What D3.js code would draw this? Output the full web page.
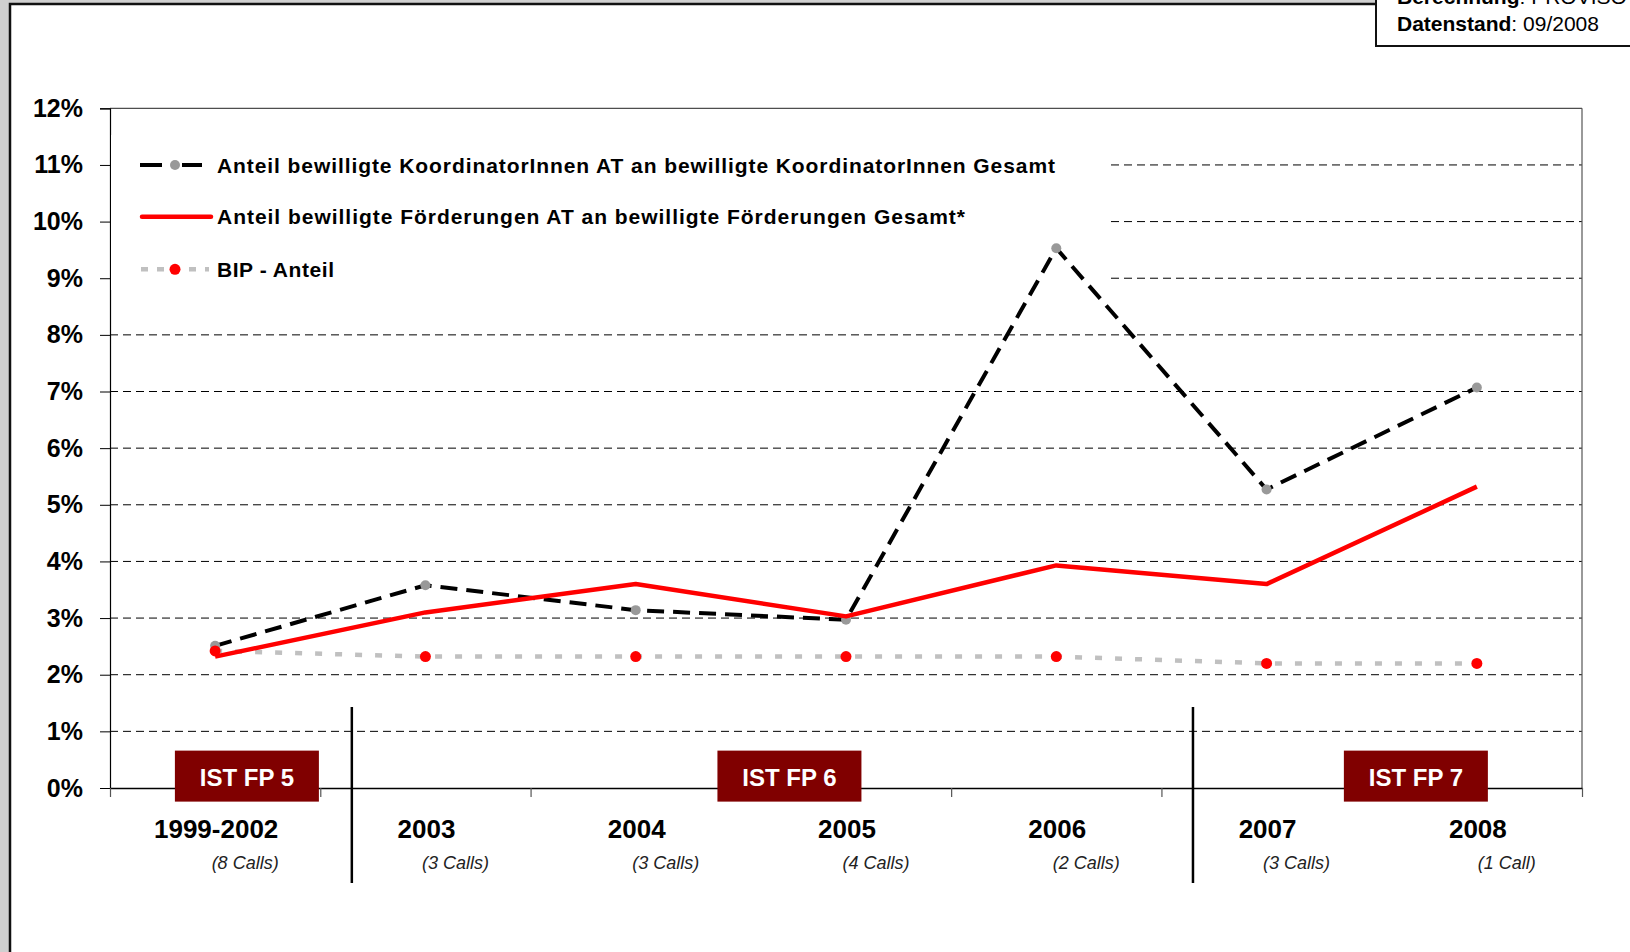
<!DOCTYPE html>
<html>
<head>
<meta charset="utf-8">
<script src="https://cdn.jsdelivr.net/npm/d3@7"></script>
<style>
  html, body { margin: 0; padding: 0; background: #d0d0d0; }
  svg { display: block; font-family: "Liberation Sans", Arial, Helvetica, sans-serif; }
</style>
</head>
<body>
<svg id="chart" width="1630" height="952"></svg>
<script>
// Categories and call counts
let categories = ["1999-2002", "2003", "2004", "2005", "2006", "2007", "2008"];
let callLabels = ["(8 Calls)", "(3 Calls)", "(3 Calls)", "(4 Calls)", "(2 Calls)", "(3 Calls)", "(1 Call)"];

// Series values in percent
let koordinatoren = [2.51, 3.58, 3.14, 2.97, 9.53, 5.27, 7.07];
let foerderungen = [2.32, 3.10, 3.60, 3.03, 3.93, 3.60, 5.32];
let bipAnteil = [2.42, 2.32, 2.32, 2.32, 2.32, 2.20, 2.20];

// Y ticks
let yTicks = [0, 1, 2, 3, 4, 5, 6, 7, 8, 9, 10, 11, 12];

// Programme periods (position in category units)
let programmes = ["IST FP 5", "IST FP 6", "IST FP 7"];
let programmeCenters = [0.651, 3.231, 6.21];
let programmeBreaks = [1.15, 5.15];

let legendLabels = [
  "Anteil bewilligte KoordinatorInnen AT an bewilligte KoordinatorInnen Gesamt",
  "Anteil bewilligte Förderungen AT an bewilligte Förderungen Gesamt*",
  "BIP - Anteil"
];

let plotLeft = 110, plotRight = 1582, plotTop = 108.3, plotBottom = 788;

let svg = d3.select("#chart");

// page panel
svg.append("rect")
    .attr("x", 10).attr("y", 4)
    .attr("width", 1640).attr("height", 980)
    .attr("fill", "#fff")
    .attr("stroke", "#111")
    .attr("stroke-width", 2.5);

let xScale = d3.scaleBand()
    .domain(categories)
    .range([plotLeft, plotRight])
    .padding(0);

let xIdx = d3.scaleLinear()
    .domain([0, categories.length])
    .range([plotLeft, plotRight]);

let yScale = d3.scaleLinear()
    .domain([0, 12])
    .range([plotBottom, plotTop]);

let cx = (d, i) => xScale(categories[i]) + xScale.bandwidth() / 2;

// gridlines
svg.append("g")
    .selectAll("line")
    .data(yTicks.filter(t => t > 0 && t < 12))
    .enter()
    .append("line")
    .attr("x1", plotLeft)
    .attr("x2", plotRight)
    .attr("y1", d => yScale(d))
    .attr("y2", d => yScale(d))
    .attr("stroke", "#000")
    .attr("stroke-width", 1)
    .attr("stroke-dasharray", "8,5");

// frame top and right
svg.append("line")
    .attr("x1", plotLeft).attr("x2", plotRight)
    .attr("y1", yScale(12)).attr("y2", yScale(12))
    .attr("stroke", "#222").attr("stroke-width", 1);
svg.append("line")
    .attr("x1", plotRight).attr("x2", plotRight)
    .attr("y1", yScale(12)).attr("y2", yScale(0))
    .attr("stroke", "#555").attr("stroke-width", 1.2);

// y axis
let yAxis = d3.axisLeft(yScale)
    .tickValues(yTicks)
    .tickSize(10)
    .tickPadding(17)
    .tickFormat(d => d + "%");

let yG = svg.append("g")
    .attr("transform", "translate(" + plotLeft + ",0)")
    .call(yAxis);
yG.select(".domain").attr("stroke", "#000").attr("stroke-width", 1.2);
yG.selectAll("line").attr("stroke", "#000");
yG.selectAll("text")
    .attr("font-size", 25)
    .attr("font-weight", "bold")
    .attr("fill", "#000")
    .attr("font-family", "Liberation Sans, Arial, sans-serif");

// x axis (ticks at category boundaries)
let xAxis = d3.axisBottom(xIdx)
    .tickValues(d3.range(categories.length + 1))
    .tickSize(9)
    .tickSizeOuter(0)
    .tickFormat("");

let xG = svg.append("g")
    .attr("transform", "translate(0," + plotBottom + ")")
    .call(xAxis);
xG.select(".domain").attr("stroke", "#000").attr("stroke-width", 1.5);
xG.selectAll("line").attr("stroke", "#555").attr("stroke-width", 1.2);

// year labels
svg.append("g")
    .selectAll("text")
    .data(categories)
    .enter()
    .append("text")
    .attr("x", (d, i) => cx(d, i) + 1)
    .attr("y", plotBottom + 50)
    .attr("text-anchor", "middle")
    .attr("font-size", 26)
    .attr("font-weight", "bold")
    .attr("fill", "#000")
    .text(d => d);

svg.append("g")
    .selectAll("text")
    .data(callLabels)
    .enter()
    .append("text")
    .attr("x", (d, i) => cx(d, i) + 30)
    .attr("y", plotBottom + 81)
    .attr("text-anchor", "middle")
    .attr("font-size", 18)
    .attr("font-style", "italic")
    .attr("fill", "#222")
    .text(d => d);

// programme separators
svg.append("g")
    .selectAll("line")
    .data(programmeBreaks)
    .enter()
    .append("line")
    .attr("x1", d => xIdx(d))
    .attr("x2", d => xIdx(d))
    .attr("y1", yScale(1.43))
    .attr("y2", plotBottom + 95)
    .attr("stroke", "#000")
    .attr("stroke-width", 2.5);

// programme boxes
let boxW = 144, boxH = 51;
let boxes = svg.append("g")
    .selectAll("g")
    .data(programmes)
    .enter()
    .append("g");

boxes.append("rect")
    .attr("x", (d, i) => xIdx(programmeCenters[i]) - boxW / 2)
    .attr("y", yScale(0.66))
    .attr("width", boxW)
    .attr("height", boxH)
    .attr("fill", "#800000");

boxes.append("text")
    .attr("x", (d, i) => xIdx(programmeCenters[i]))
    .attr("y", yScale(0.66) + 35)
    .attr("text-anchor", "middle")
    .attr("font-size", 24)
    .attr("font-weight", "bold")
    .attr("fill", "#fff")
    .text(d => d);

// legend background hides gridlines
svg.append("rect")
    .attr("x", plotLeft + 1)
    .attr("y", 135)
    .attr("width", 1107 - plotLeft - 1)
    .attr("height", 155)
    .attr("fill", "#fff");

// lines
let lineGen = d3.line()
    .x((d, i) => cx(d, i))
    .y(d => yScale(d));

svg.append("path")
    .datum(bipAnteil)
    .attr("d", lineGen)
    .attr("fill", "none")
    .attr("stroke", "#c0c0c0")
    .attr("stroke-width", 4.5)
    .attr("stroke-dasharray", "7,13");

svg.append("path")
    .datum(koordinatoren)
    .attr("d", lineGen)
    .attr("fill", "none")
    .attr("stroke", "#000")
    .attr("stroke-width", 4)
    .attr("stroke-dasharray", "17,9");

svg.append("g")
    .selectAll("circle")
    .data(koordinatoren)
    .enter()
    .append("circle")
    .attr("cx", cx)
    .attr("cy", d => yScale(d))
    .attr("r", 5)
    .attr("fill", "#999");

svg.append("path")
    .datum(foerderungen)
    .attr("d", lineGen)
    .attr("fill", "none")
    .attr("stroke", "#ff0000")
    .attr("stroke-width", 4.5)
    .attr("stroke-linejoin", "round");

svg.append("g")
    .selectAll("circle")
    .data(bipAnteil)
    .enter()
    .append("circle")
    .attr("cx", cx)
    .attr("cy", d => yScale(d))
    .attr("r", 5.5)
    .attr("fill", "#ff0000");

// legend
let legendY = [165, 216.7, 269.3];
let legendWidths = [838, 748, 117];
let leg = svg.append("g");

// row 1: black dashes with gray dot
leg.append("line").attr("x1", 140).attr("x2", 162).attr("y1", legendY[0]).attr("y2", legendY[0])
    .attr("stroke", "#000").attr("stroke-width", 4);
leg.append("line").attr("x1", 182).attr("x2", 202).attr("y1", legendY[0]).attr("y2", legendY[0])
    .attr("stroke", "#000").attr("stroke-width", 4);
leg.append("circle").attr("cx", 175).attr("cy", legendY[0]).attr("r", 5).attr("fill", "#999");

// row 2: red solid
leg.append("line").attr("x1", 142).attr("x2", 211).attr("y1", legendY[1]).attr("y2", legendY[1])
    .attr("stroke", "#ff0000").attr("stroke-width", 4.5).attr("stroke-linecap", "round");

// row 3: gray dashes with red dot
leg.append("line").attr("x1", 141).attr("x2", 209).attr("y1", legendY[2]).attr("y2", legendY[2])
    .attr("stroke", "#c0c0c0").attr("stroke-width", 4.5).attr("stroke-dasharray", "7,9");
leg.append("circle").attr("cx", 175).attr("cy", legendY[2]).attr("r", 5.5).attr("fill", "#ff0000");

leg.selectAll("text")
    .data(legendLabels)
    .enter()
    .append("text")
    .attr("x", 217)
    .attr("y", (d, i) => legendY[i] + 7.5)
    .attr("font-size", 21)
    .attr("font-weight", "bold")
    .attr("fill", "#000")
    .attr("textLength", (d, i) => legendWidths[i])
    .attr("lengthAdjust", "spacing")
    .text(d => d);

// source box top right
svg.append("rect")
    .attr("x", 1376).attr("y", -10)
    .attr("width", 300).attr("height", 56)
    .attr("fill", "#fff")
    .attr("stroke", "#111")
    .attr("stroke-width", 2);

let src1 = svg.append("text").attr("x", 1397).attr("y", 4).attr("font-size", 21).attr("fill", "#000");
src1.append("tspan").attr("font-weight", "bold").text("Berechnung");
src1.append("tspan").text(": PROVISO");

let src2 = svg.append("text").attr("x", 1397).attr("y", 31).attr("font-size", 21).attr("fill", "#000");
src2.append("tspan").attr("font-weight", "bold").text("Datenstand");
src2.append("tspan").text(": 09/2008");
</script>
</body>
</html>
